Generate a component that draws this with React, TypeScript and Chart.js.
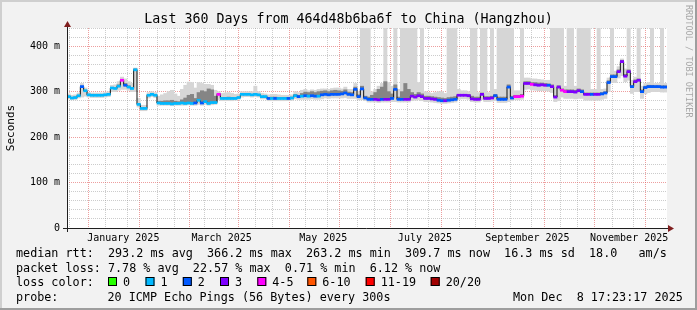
import { useEffect, useRef } from 'react';
import { Chart, registerables } from 'chart.js';

Chart.register(...registerables);

// ---------- text ----------
const titleText = 'Last 360 Days from 464d48b6ba6f to China (Hangzhou)';
const yAxisTitle = 'Seconds';
const watermark = 'RRDTOOL / TOBI OETIKER';
const legendRow1 = 'median rtt:  293.2 ms avg  366.2 ms max  263.2 ms min  309.7 ms now  16.3 ms sd  18.0   am/s';
const legendRow2 = 'packet loss: 7.78 % avg  22.57 % max  0.71 % min  6.12 % now';
const legendRow3Label = 'loss color:';
const legendRow4Label = 'probe:';
const probeText = '20 ICMP Echo Pings (56 Bytes) every 300s';
const stampText = 'Mon Dec  8 17:23:17 2025';

const lossLabels = ['0', '1', '2', '3', '4-5', '6-10', '11-19', '20/20'];
const lossColors = ['#26ff00', '#00b8ff', '#0059ff', '#7e00ff', '#ff00ff', '#ff5500', '#ff0000', '#a10000'];

// ---------- time axis ----------
const MS_DAY = 86400000;
const endTime = Date.UTC(2025, 11, 8, 17, 23, 17);
const spanDays = 360;
const stepDays = 2; // one sample = 2 days
const startTime = endTime - spanDays * MS_DAY;

const xTickLabels = ['January 2025', 'March 2025', 'May 2025', 'July 2025', 'September 2025', 'November 2025'];
const xTickMonths = [0, 2, 4, 6, 8, 10]; // months of 2025
const gridDays = [1, 11, 21];

const yMax = 440;
const yMinorStep = 20;
const yMajorStep = 100;

// ---------- data (ms), one value per 2 days ----------
const median = [
  289, 286, 287, 291, 311, 302, 293, 292, 292, 292,
  292, 293, 294, 308, 307, 312, 325, 314, 310, 307,
  348, 272, 263, 263, 292, 294, 292, 275, 274, 274,
  274, 273, 274, 274, 275, 274, 275, 274, 275, 281,
  275, 278, 274, 276, 276, 294, 285, 285, 285, 285,
  285, 287, 294, 294, 294, 293, 294, 293, 289, 289,
  285, 285, 285, 285, 285, 285, 285, 286, 291, 289,
  290, 291, 290, 291, 290, 290, 293, 294, 293, 294,
  294, 294, 295, 297, 294, 293, 305, 289, 306, 286,
  283, 283, 283, 282, 283, 283, 283, 285, 305, 283,
  283, 283, 283, 290, 288, 291, 289, 285, 285, 284,
  283, 281, 280, 280, 281, 282, 283, 292, 292, 292,
  291, 284, 283, 283, 294, 285, 285, 286, 291, 283,
  283, 283, 310, 286, 289, 289, 290, 318, 318, 316,
  315, 314, 315, 314, 314, 311, 288, 310, 303, 300,
  300, 300, 299, 302, 300, 294, 294, 294, 294, 294,
  295, 297, 320, 333, 333, 344, 366, 334, 344, 311,
  322, 325, 300, 309, 311, 311, 311, 311, 310, 310,
];

// index into lossColors
const lossIdx = [
  1, 1, 1, 1, 2, 1, 1, 1, 1, 1,
  1, 1, 1, 1, 1, 1, 4, 2, 1, 1,
  1, 1, 1, 1, 1, 1, 1, 1, 1, 1,
  1, 1, 1, 1, 1, 1, 1, 1, 2, 1,
  2, 1, 1, 1, 1, 4, 1, 1, 1, 1,
  1, 1, 1, 1, 1, 1, 1, 1, 1, 1,
  2, 1, 2, 1, 1, 1, 2, 1, 1, 2,
  1, 2, 1, 2, 2, 1, 2, 2, 2, 2,
  2, 2, 2, 2, 2, 2, 2, 2, 2, 2,
  2, 2, 3, 3, 2, 3, 3, 2, 2, 2,
  2, 3, 3, 3, 3, 3, 3, 3, 3, 3,
  3, 2, 2, 3, 2, 2, 2, 3, 3, 3,
  3, 3, 3, 3, 3, 3, 3, 3, 2, 2,
  2, 2, 2, 2, 4, 4, 4, 3, 3, 4,
  3, 3, 3, 3, 2, 3, 3, 3, 4, 4,
  3, 3, 3, 3, 2, 3, 3, 2, 3, 3,
  2, 2, 2, 2, 2, 3, 3, 3, 3, 2,
  3, 3, 2, 2, 2, 2, 2, 2, 2, 2,
];

// outer (light) smoke: lowest and highest ping
const smokeLo = [
  284, 282, 282, 286, 288, 290, 288, 287, 287, 287,
  287, 288, 289, 300, 300, 303, 305, 305, 303, 300,
  300, 266, 258, 258, 286, 289, 287, 270, 270, 270,
  270, 269, 270, 270, 270, 270, 271, 270, 270, 272,
  270, 272, 270, 271, 272, 282, 280, 280, 280, 280,
  281, 283, 288, 289, 289, 288, 289, 288, 284, 284,
  280, 280, 280, 280, 280, 280, 280, 281, 284, 283,
  283, 283, 283, 284, 283, 283, 284, 286, 285, 286,
  286, 286, 286, 287, 285, 285, 285, 282, 282, 280,
  277, 277, 277, 276, 277, 277, 277, 278, 278, 277,
  277, 277, 277, 280, 281, 282, 280, 278, 278, 277,
  276, 275, 274, 274, 275, 276, 277, 283, 284, 284,
  283, 278, 277, 277, 282, 278, 278, 279, 280, 276,
  276, 276, 278, 280, 282, 282, 283, 305, 306, 304,
  303, 302, 302, 302, 301, 298, 278, 280, 288, 285,
  285, 285, 284, 285, 285, 281, 281, 281, 281, 281,
  283, 285, 300, 320, 320, 330, 335, 322, 325, 296,
  300, 300, 285, 295, 298, 300, 300, 300, 299, 299,
];
const smokeHi = [
  295, 292, 293, 297, 318, 308, 298, 297, 297, 297,
  297, 298, 300, 314, 315, 322, 332, 328, 322, 318,
  352, 285, 270, 270, 298, 300, 298, 290, 293, 296,
  300, 303, 295, 290, 305, 314, 321, 320, 308, 320,
  318, 316, 316, 314, 303, 300, 296, 297, 298, 296,
  294, 295, 300, 300, 300, 300, 312, 300, 296, 295,
  293, 294, 294, 293, 292, 292, 292, 293, 300, 298,
  303, 305, 302, 304, 303, 305, 306, 306, 305, 307,
  308, 308, 306, 310, 305, 305, 318, 300, 460, 460,
  460, 300, 305, 312, 318, 460, 320, 312, 460, 305,
  460, 460, 460, 460, 460, 320, 460, 300, 298, 296,
  298, 300, 300, 296, 460, 460, 460, 305, 302, 302,
  300, 460, 460, 298, 460, 460, 298, 460, 305, 460,
  460, 460, 460, 460, 302, 302, 460, 330, 330, 328,
  328, 327, 326, 325, 325, 460, 460, 460, 460, 312,
  460, 460, 312, 460, 460, 460, 460, 305, 305, 460,
  305, 306, 330, 460, 345, 355, 372, 350, 460, 325,
  332, 460, 312, 318, 320, 460, 318, 318, 460, 318,
];
// inner (dark) smoke: from median up to this value
const smokeDarkHi = [
  290, 287, 288, 292, 312, 303, 294, 293, 293, 293,
  293, 294, 295, 309, 308, 315, 326, 318, 313, 309,
  350, 273, 264, 264, 293, 295, 293, 279, 279, 280,
  280, 281, 279, 278, 282, 286, 292, 294, 285, 298,
  302, 300, 306, 304, 290, 296, 287, 287, 288, 287,
  286, 288, 295, 295, 295, 294, 296, 294, 290, 290,
  287, 288, 288, 287, 287, 287, 287, 288, 294, 292,
  296, 299, 298, 300, 298, 300, 301, 302, 300, 302,
  303, 302, 301, 304, 299, 298, 310, 293, 312, 290,
  288, 292, 298, 305, 310, 322, 300, 295, 315, 288,
  300, 318, 305, 298, 294, 298, 295, 290, 290, 289,
  288, 287, 286, 285, 287, 288, 289, 294, 294, 294,
  294, 290, 288, 288, 297, 289, 289, 290, 294, 288,
  288, 288, 315, 290, 292, 292, 294, 322, 322, 320,
  320, 319, 319, 318, 317, 315, 291, 313, 306, 304,
  304, 304, 303, 306, 304, 297, 297, 297, 297, 297,
  298, 300, 324, 337, 337, 348, 369, 338, 348, 314,
  326, 328, 304, 312, 314, 314, 313, 313, 313, 313,
];

// ---------- helpers ----------
const xAt = (i: number) => i * stepDays + stepDays / 2;
const dayPos = (y: number, m: number, d: number) => (Date.UTC(y, m, d) - startTime) / MS_DAY;

type TickDef = { value: number; kind: 'major' | 'minor' | 'label'; label: string };
const buildXTicks = (): TickDef[] => {
  const out: TickDef[] = [];
  const s = new Date(startTime);
  for (let k = 0; k < 15; k++) {
    const y = s.getUTCFullYear() + Math.floor((s.getUTCMonth() + k) / 12);
    const m = (s.getUTCMonth() + k) % 12;
    for (const d of gridDays) {
      const v = dayPos(y, m, d);
      if (v > 0 && v < spanDays) out.push({ value: v, kind: d === 1 ? 'major' : 'minor', label: '' });
    }
  }
  xTickMonths.forEach((m, j) => {
    const v = (dayPos(2025, m, 1) + dayPos(2025, m + 1, 1)) / 2;
    out.push({ value: v, kind: 'label', label: xTickLabels[j] });
  });
  out.sort((a, b) => a.value - b.value);
  return out;
};
const xTicks = buildXTicks();
const xKind = (v: number) => xTicks.find((t) => Math.abs(t.value - v) < 1e-6);

const MONO = '"DejaVu Sans Mono", monospace';
const GRID_MINOR = 'rgba(143,143,143,0.45)';
const GRID_MAJOR = 'rgba(222,79,79,0.55)';

const decor = {
  id: 'decor',
  beforeDraw(chart: any) {
    const { ctx, chartArea: a, width, height } = chart;
    ctx.save();
    ctx.fillStyle = '#f2f2f2';
    ctx.fillRect(0, 0, width, height);
    ctx.fillStyle = '#cfcfcf';
    ctx.fillRect(0, 0, width, 2);
    ctx.fillRect(0, 0, 2, height);
    ctx.fillStyle = '#9e9e9e';
    ctx.fillRect(0, height - 2, width, 2);
    ctx.fillRect(width - 2, 0, 2, height);
    ctx.fillStyle = '#ffffff';
    ctx.fillRect(a.left, a.top, a.right - a.left, a.bottom - a.top);
    ctx.restore();
  },
  afterDraw(chart: any) {
    const { ctx, chartArea: a, width } = chart;
    const xs = chart.scales.x;
    const ys = chart.scales.y;
    const y0 = Math.round(ys.getPixelForValue(0)) + 0.5;
    const xL = Math.round(xs.getPixelForValue(0)) + 0.5;
    ctx.save();
    // axes
    ctx.strokeStyle = '#1f1f1f';
    ctx.lineWidth = 1;
    ctx.beginPath();
    ctx.moveTo(a.left - 4, y0);
    ctx.lineTo(a.right + 3, y0);
    ctx.moveTo(xL, a.bottom + 4);
    ctx.lineTo(xL, a.top - 3);
    ctx.stroke();
    // arrows
    ctx.fillStyle = '#801f1f';
    ctx.beginPath();
    ctx.moveTo(a.right + 1, y0 - 3.5);
    ctx.lineTo(a.right + 7, y0);
    ctx.lineTo(a.right + 1, y0 + 3.5);
    ctx.closePath();
    ctx.fill();
    ctx.beginPath();
    ctx.moveTo(xL - 3.5, a.top - 1);
    ctx.lineTo(xL, a.top - 7);
    ctx.lineTo(xL + 3.5, a.top - 1);
    ctx.closePath();
    ctx.fill();

    // title
    ctx.fillStyle = '#000';
    ctx.textBaseline = 'alphabetic';
    ctx.font = `13.3px ${MONO}`;
    ctx.textAlign = 'center';
    ctx.fillText(titleText, width / 2, 23);

    // y axis title
    ctx.save();
    ctx.translate(14, (a.top + a.bottom) / 2);
    ctx.rotate(-Math.PI / 2);
    ctx.font = `11px ${MONO}`;
    ctx.textAlign = 'center';
    ctx.fillText(yAxisTitle, 0, 0);
    ctx.restore();

    // watermark
    ctx.save();
    ctx.translate(686, 5);
    ctx.rotate(Math.PI / 2);
    ctx.font = `8.5px ${MONO}`;
    ctx.textAlign = 'left';
    ctx.fillStyle = '#a8a8a8';
    ctx.fillText(watermark, 0, 0);
    ctx.restore();

    // legend
    ctx.font = `11.75px ${MONO}`;
    ctx.textAlign = 'left';
    ctx.fillStyle = '#000';
    ctx.fillText(legendRow1, 16, 257.3);
    ctx.fillText(legendRow2, 16, 271.7);
    ctx.fillText(legendRow3Label, 16, 286.1);
    const boxX = [108, 145.5, 182.8, 220, 257.3, 307.3, 365.7, 430.7];
    lossLabels.forEach((lab, j) => {
      const bx = boxX[j];
      ctx.fillStyle = lossColors[j];
      ctx.fillRect(bx, 277, 9, 9);
      ctx.strokeStyle = '#000';
      ctx.lineWidth = 1;
      ctx.strokeRect(bx + 0.5, 277.5, 8, 8);
      ctx.fillStyle = '#000';
      ctx.fillText(lab, bx + 15, 286.1);
    });
    ctx.fillText(legendRow4Label, 16, 300.5);
    ctx.fillText(probeText, 107.5, 300.5);
    ctx.fillText(stampText, 513, 300.5);
    ctx.restore();
  },
};

export default function App() {
  const ref = useRef<HTMLCanvasElement>(null);
  useEffect(() => {
    document.body.style.margin = '0';
    const pts = (arr: number[]) => arr.map((v, i) => ({ x: xAt(i), y: v }));
    const band = (lo: number[], hi: number[]) => lo.map((v, i) => ({ x: xAt(i), y: [v, Math.max(v, hi[i])] }));
    const chart = new Chart(ref.current!, {
      type: 'line',
      data: {
        datasets: [
          {
            type: 'bar',
            label: 'median (loss colour)',
            data: median.map((v, i) => ({ x: xAt(i), y: [v - 2.3, v + 2.3] })) as any,
            backgroundColor: lossIdx.map((k) => lossColors[k]),
            borderWidth: 0,
            barPercentage: 1,
            categoryPercentage: 1,
            grouped: false,
            order: 0,
          },
          {
            type: 'line',
            label: 'median',
            data: pts(median),
            stepped: 'middle',
            borderColor: '#101010',
            borderWidth: 1,
            pointRadius: 0,
            fill: false,
            order: 1,
          },
          {
            type: 'bar',
            label: 'smoke dark',
            data: band(median, smokeDarkHi) as any,
            backgroundColor: '#858585',
            borderWidth: 0,
            barPercentage: 1,
            categoryPercentage: 1,
            grouped: false,
            order: 2,
          },
          {
            type: 'bar',
            label: 'smoke',
            data: band(smokeLo, smokeHi) as any,
            backgroundColor: '#d6d6d6',
            borderWidth: 0,
            barPercentage: 1,
            categoryPercentage: 1,
            grouped: false,
            order: 3,
          },
        ],
      },
      options: {
        animation: false,
        responsive: false,
        events: [],
        layout: { padding: { left: 0, right: 30, top: 28, bottom: 62 } },
        plugins: { legend: { display: false }, tooltip: { enabled: false }, title: { display: false } },
        scales: {
          x: {
            type: 'linear',
            min: 0,
            max: spanDays,
            offset: false,
            afterBuildTicks: (s: any) => {
              s.ticks = xTicks.map((t) => ({ value: t.value }));
            },
            afterFit: (s: any) => {
              s.height = 20;
            },
            ticks: {
              autoSkip: false,
              minRotation: 0,
              maxRotation: 0,
              padding: 4,
              color: '#000',
              font: { family: MONO, size: 10 },
              callback: (v: any) => xKind(Number(v))?.label ?? '',
            },
            grid: {
              drawTicks: false,
              color: (c: any) => {
                const t = c.tick ? xKind(c.tick.value) : undefined;
                if (!t || t.kind === 'label') return 'rgba(0,0,0,0)';
                return t.kind === 'major' ? GRID_MAJOR : GRID_MINOR;
              },
              lineWidth: (c: any) => {
                const t = c.tick ? xKind(c.tick.value) : undefined;
                return !t || t.kind === 'label' ? 0 : 1;
              },
            },
            border: { display: false, dash: [1, 1] },
          },
          y: {
            type: 'linear',
            min: 0,
            max: yMax,
            afterBuildTicks: (s: any) => {
              const t = [];
              for (let v = 0; v <= yMax; v += yMinorStep) t.push({ value: v });
              s.ticks = t;
            },
            afterFit: (s: any) => {
              s.width = 67;
            },
            ticks: {
              autoSkip: false,
              padding: 7,
              color: '#000',
              font: { family: MONO, size: 10 },
              callback: (v: any) => {
                const n = Number(v);
                if (n % yMajorStep !== 0) return '';
                return n === 0 ? '0' : `${n} m`;
              },
            },
            grid: {
              drawTicks: false,
              color: (c: any) => (c.tick && c.tick.value % yMajorStep === 0 ? GRID_MAJOR : GRID_MINOR),
            },
            border: { display: false, dash: [1, 1] },
          },
        },
      },
      plugins: [decor],
    } as any);
    return () => chart.destroy();
  }, []);
  return (
    <div style={{ width: 697, height: 310 }}>
      <canvas ref={ref} width={697} height={310} style={{ display: 'block' }} />
    </div>
  );
}
